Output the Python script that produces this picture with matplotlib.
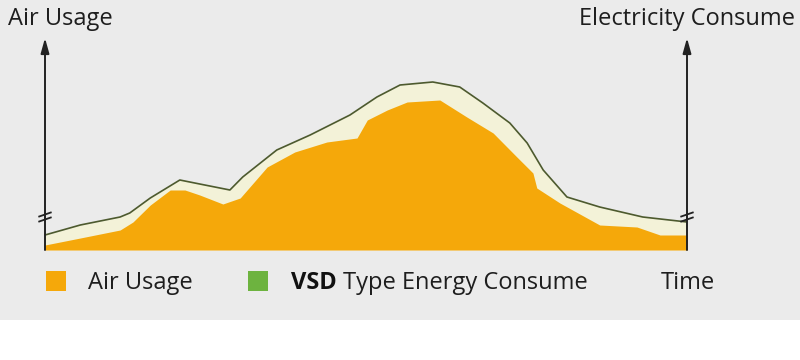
import matplotlib.pyplot as plt
from matplotlib.patches import Rectangle

# time axis in arbitrary units (0-100), values in arbitrary units (0-210)
air_t = [0, 5.5, 11.7, 13.7, 16.4, 19.5, 21.8, 24.1, 27.7, 30.4, 34.6, 38.9, 43.9,
         48.6, 50.2, 53.3, 56.4, 61.5, 65.7, 69.8, 73.5, 76.0, 76.6, 80.2, 86.4,
         92.2, 95.8, 100]
air_usage = [5, 12, 20, 28, 45, 60, 60, 55, 46, 52, 83, 98, 108, 112, 130, 140,
             148, 150, 133, 117, 93, 77, 62, 47, 25, 23, 15, 15]

vsd_t = [0, 5.5, 11.7, 13.2, 16.4, 21.0, 24.1, 28.8, 30.8, 36.1, 41.3, 47.5, 51.7,
         55.3, 60.4, 64.6, 68.2, 72.4, 75.1, 77.6, 81.3, 86.4, 93.1, 100]
vsd_energy = [15, 25, 33, 37, 52, 70, 66, 60, 73, 100, 115, 135, 153, 165, 168,
              163, 147, 127, 107, 80, 53, 43, 33, 28]

title_left = "Air Usage"
title_right = "Electricity Consume"
legend_labels = ["Air Usage", "Type Energy Consume"]
x_label = "Time"

orange = "#f5a80a"
green = "#6db33f"
line_col = "#4d5a2e"
cream = "#f3f2d8"
bg = "#ebebeb"

plt.rcParams['font.family'] = ['Open Sans', 'DejaVu Sans']

W, H = 800, 360
fig = plt.figure(figsize=(8, 3.6), dpi=100, facecolor=bg)
# white band at the bottom
fig.patches.append(Rectangle((0, 0), 1, 40 / H, transform=fig.transFigure,
                             facecolor="white", edgecolor="none", zorder=0))

x0, x1, yb, yt = 45, 687, 250, 40
ax = fig.add_axes([x0 / W, (H - yb) / H, (x1 - x0) / W, (yb - yt) / H])
ax.set_facecolor("none")
ax.set_xlim(0, 100)
ax.set_ylim(0, 210)
ax.axis("off")

ax.fill_between(vsd_t, 0, vsd_energy, color=cream, lw=0, zorder=1)
ax.plot(vsd_t, vsd_energy, color=line_col, lw=1.2, zorder=3)
ax.fill_between(air_t, 0, air_usage, color=orange, lw=0, zorder=2)

# vertical axes with arrows
for xa in (0, 100):
    ax.annotate("", xy=(xa, 212), xytext=(xa, 0), annotation_clip=False,
                arrowprops=dict(arrowstyle="-|>,head_length=0.9,head_width=0.25",
                                color="#222222", lw=1.4, shrinkA=0, shrinkB=0),
                zorder=5)
    # break marks
    for dy in (-2.5, 2.5):
        ax.plot([xa - 0.9, xa + 0.9], [33 + dy - 2, 33 + dy + 2], color="#222222",
                lw=1.3, clip_on=False, zorder=6)

fs = 17
txt = "#1e1e1e"
fig.text(8 / W, 1 - 19 / H, title_left, fontsize=fs, color=txt, va="center")
fig.text(795 / W, 1 - 19 / H, title_right, fontsize=fs, color=txt,
         va="center", ha="right")

ly = 1 - 283 / H
fig.patches.append(Rectangle((46 / W, 1 - 291 / H), 20 / W, 20 / H,
                             transform=fig.transFigure, facecolor=orange,
                             edgecolor="none"))
fig.text(88 / W, ly, legend_labels[0], fontsize=fs, color=txt, va="center")
fig.patches.append(Rectangle((248 / W, 1 - 291 / H), 20 / W, 20 / H,
                             transform=fig.transFigure, facecolor=green,
                             edgecolor="none"))
fig.text(291 / W, ly, "VSD", fontsize=fs, color="#111111", va="center",
         fontweight="bold")
fig.text(343 / W, ly, legend_labels[1], fontsize=fs, color=txt, va="center")
fig.text(661 / W, ly, x_label, fontsize=fs, color=txt, va="center")

fig.savefig("out.png", dpi=100, facecolor=bg)
